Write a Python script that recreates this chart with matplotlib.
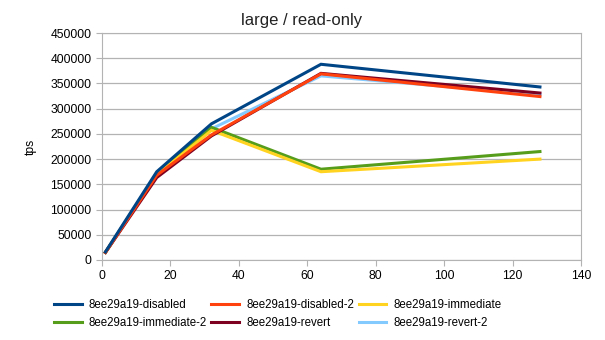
import matplotlib
matplotlib.use("Agg")
from matplotlib import pyplot as plt

clients = [1, 16, 32, 64, 128]

disabled = [16000, 175000, 270000, 388000, 343000]
disabled_2 = [15000, 168000, 248000, 369000, 324000]
immediate = [15000, 169000, 257000, 175000, 200000]
immediate_2 = [15000, 171000, 263000, 180000, 215000]
revert = [15000, 163500, 246000, 370000, 331000]
revert_2 = [15000, 171000, 260000, 365000, 328000]

series = [
    ('8ee29a19-disabled', disabled, '#004586'),
    ('8ee29a19-disabled-2', disabled_2, '#ff420e'),
    ('8ee29a19-immediate', immediate, '#ffd320'),
    ('8ee29a19-immediate-2', immediate_2, '#579d1c'),
    ('8ee29a19-revert', revert, '#7e0021'),
    ('8ee29a19-revert-2', revert_2, '#83caff'),
]

plt.rcParams['font.family'] = ['Liberation Sans', 'DejaVu Sans']

fig = plt.figure(figsize=(6.05, 3.4), dpi=100)
ax = fig.add_axes([102 / 605, 1 - 260 / 340, 479 / 605, 227 / 340])

# draw in an order so the overlaps look like the original
order = [5, 3, 2, 4, 1, 0]
lines = {}
for i in order:
    name, vals, col = series[i]
    lines[i], = ax.plot(clients, vals, color=col, lw=2.2, label=name,
                        solid_joinstyle='miter')

ax.set_xlim(0, 140)
ax.set_ylim(0, 450000)
ax.set_xticks(range(0, 141, 20))
ax.set_yticks(range(0, 450001, 50000))
ax.grid(axis='y', color='#b3b3b3', lw=0.9)
ax.set_axisbelow(True)
for s in ax.spines.values():
    s.set_color('#b3b3b3')
ax.tick_params(colors='#b3b3b3', labelcolor='black', labelsize=8.7, length=4)

ax.set_ylabel('tps', fontsize=8.7, labelpad=10)
fig.text(302 / 605, 1 - 20 / 340, 'large / read-only', ha='center', va='center',
         fontsize=12, color='#222222')

# legend is filled column by column, so reorder to get row-wise reading
leg_order = [0, 3, 1, 4, 2, 5]
fig.legend([lines[i] for i in leg_order], [series[i][0] for i in leg_order],
           loc='upper left', ncol=3, bbox_to_anchor=(54 / 605, 1 - 299 / 340),
           frameon=False, fontsize=8.3, handlelength=2.4, columnspacing=0.4,
           labelspacing=0.5, handletextpad=0.6, borderaxespad=0, borderpad=0)

fig.savefig('out.png', dpi=100)
